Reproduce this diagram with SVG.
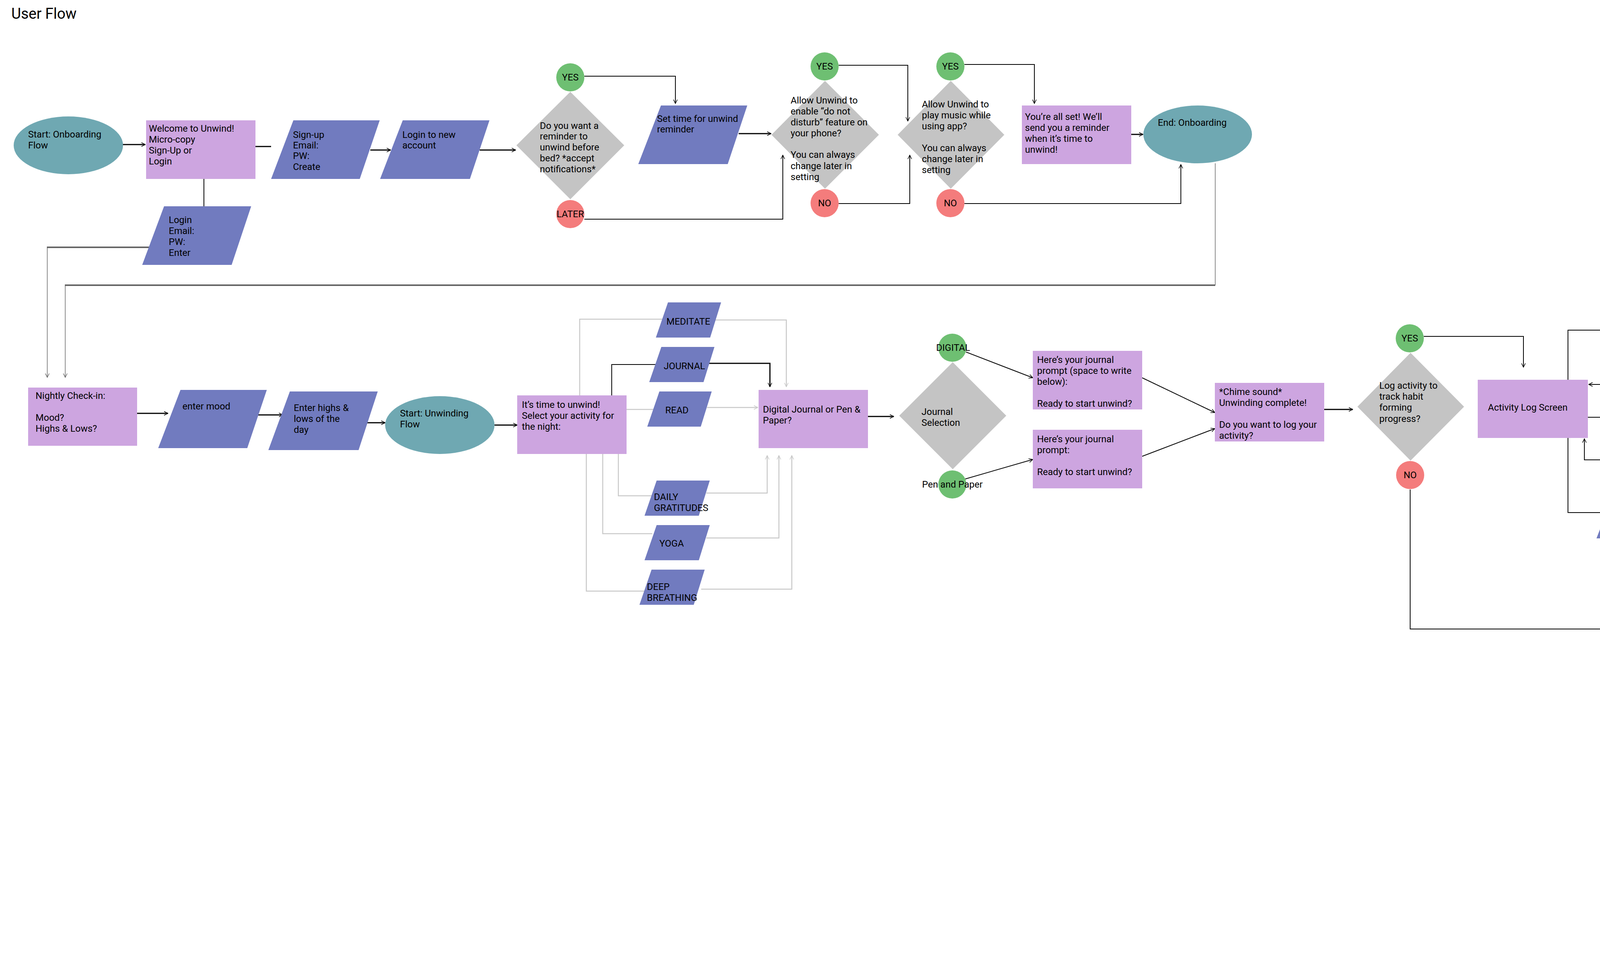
<svg xmlns="http://www.w3.org/2000/svg" width="4858" height="2470" viewBox="0 0 4858 2470">
<style>
text{font-family:Roboto,"Liberation Sans",sans-serif;font-size:24px;fill:#000}
.t{fill:#6FA8B2}.p{fill:#CDA5E0}.b{fill:#717BBF}.d{fill:#C4C4C4}.g{fill:#6EBF72}.r{fill:#F47C7C}
.c{fill:none;stroke:#000;stroke-width:3}.c1{fill:none;stroke:#000;stroke-width:2}
.lg{fill:none;stroke:#C8C8C8;stroke-width:2.5}.dg{fill:none;stroke:#666;stroke-width:1.5}.dg3{fill:none;stroke:#666;stroke-width:4}
.m{text-anchor:middle}
</style>
<defs>
<marker id="a" viewBox="0 0 12 12" refX="11" refY="6" markerWidth="12" markerHeight="12" markerUnits="userSpaceOnUse" orient="auto"><path d="M1,1 L11,6 L1,11" fill="none" stroke="#000" stroke-width="1.5"/></marker>
<marker id="ag" viewBox="0 0 12 12" refX="11" refY="6" markerWidth="12" markerHeight="12" markerUnits="userSpaceOnUse" orient="auto"><path d="M1,1 L11,6 L1,11" fill="none" stroke="#C8C8C8" stroke-width="1.5"/></marker>
<marker id="ad" viewBox="0 0 12 12" refX="11" refY="6" markerWidth="12" markerHeight="12" markerUnits="userSpaceOnUse" orient="auto"><path d="M1,1 L11,6 L1,11" fill="none" stroke="#666" stroke-width="1.5"/></marker>
</defs>
<rect width="4858" height="2470" fill="#fff"/>
<text x="29" y="48" style="font-size:38px">User Flow</text>

<g id="connectors">
<path class="c" d="M314,370 H372" marker-end="url(#a)"/>
<path class="c" d="M654,375 H694"/>
<path class="c1" d="M522,458 V528"/>
<path class="c" d="M948,384 H1000" marker-end="url(#a)"/>
<path class="c" d="M1228,384 H1320" marker-end="url(#a)"/>
<path class="c1" d="M1496,195 H1729 V265" marker-end="url(#a)"/>
<path class="c1" d="M1496,561 H2004 V397" marker-end="url(#a)"/>
<path class="c" d="M1891,342 H1974" marker-end="url(#a)"/>
<path class="c1" d="M2147,167 H2324 V310" marker-end="url(#a)"/>
<path class="c1" d="M2147,521 H2329 V397" marker-end="url(#a)"/>
<path class="c1" d="M2469,165 H2648 V265" marker-end="url(#a)"/>
<path class="c1" d="M2469,521 H3023 V421" marker-end="url(#a)"/>
<path class="c" d="M2896,344 H2926" marker-end="url(#a)"/>
<path class="dg" d="M3111,418 V730"/>
<path class="dg3" d="M3111,730 H166"/>
<path class="dg" d="M167,730 V966" marker-end="url(#ad)"/>
<path class="dg3" d="M385,633 H120"/>
<path class="dg" d="M121,633 V966" marker-end="url(#ad)"/>
<path class="c" d="M351,1058 H430" marker-end="url(#a)"/>
<path class="c" d="M660,1062 H724" marker-end="url(#a)"/>
<path class="c" d="M940,1082 H986" marker-end="url(#a)"/>
<path class="c" d="M1266,1088 H1324" marker-end="url(#a)"/>
<path class="lg" d="M1484,1012 V817 H1700"/>
<path class="lg" d="M1830,819 H2013 V990" marker-end="url(#ag)"/>
<path class="c1" d="M1566,1012 V933 H1680"/>
<path class="c" d="M1812,930 H1971 V990" marker-end="url(#a)"/>
<path class="lg" d="M1604,1048 H1675"/>
<path class="lg" d="M1810,1043 H1940" marker-end="url(#ag)"/>
<path class="lg" d="M1583,1162 V1269 H1670"/>
<path class="lg" d="M1808,1262 H1964 V1166" marker-end="url(#ag)"/>
<path class="lg" d="M1543,1162 V1366 H1670"/>
<path class="lg" d="M1808,1377 H1994 V1166" marker-end="url(#ag)"/>
<path class="lg" d="M1501,1162 V1513 H1660"/>
<path class="lg" d="M1795,1508 H2027 V1166" marker-end="url(#ag)"/>
<path class="c" d="M2222,1066 H2288" marker-end="url(#a)"/>
<path class="c1" d="M2473,901 L2644,967" marker-end="url(#a)"/>
<path class="c1" d="M2471,1226 L2644,1176" marker-end="url(#a)"/>
<path class="c1" d="M2924,967 L3110,1056" marker-end="url(#a)"/>
<path class="c1" d="M2924,1168 L3110,1097" marker-end="url(#a)"/>
<path class="c" d="M3390,1048 H3463" marker-end="url(#a)"/>
<path class="c1" d="M3645,861 H3900 V940" marker-end="url(#a)"/>
<path class="c1" d="M4014,972 V845 H4140"/>
<path class="c1" d="M4198,923 V984 H4067" marker-end="url(#a)"/>
<path class="c1" d="M4065,1068 H4135"/>
<path class="c1" d="M4185,1152 V1177 H4056 V1123" marker-end="url(#a)"/>
<path class="c1" d="M4014,1121 V1312 H4110"/>
<path class="c" d="M4350,1310 H4561 V974" marker-end="url(#a)"/>
<path class="c1" d="M3610,1253 V1610 H4637 V974" marker-end="url(#a)"/>
</g>

<g id="start-onboarding"><ellipse class="t" cx="175" cy="372" rx="140" ry="74"/><text x="72" y="352">Start: Onboarding</text><text x="72" y="380">Flow</text></g>
<g id="welcome"><rect class="p" x="374" y="308" width="280" height="150"/><text x="381" y="337">Welcome to Unwind!</text><text x="381" y="365">Micro-copy</text><text x="381" y="393">Sign-Up or</text><text x="381" y="421">Login</text></g>
<g id="signup"><polygon class="b" points="751,308 972,308 921,458 694,458"/><text x="750" y="353">Sign-up</text><text x="750" y="380">Email:</text><text x="750" y="407">PW:</text><text x="750" y="435">Create</text></g>
<g id="login-new"><polygon class="b" points="1031,308 1253,308 1203,458 973,458"/><text x="1030" y="353">Login to new</text><text x="1030" y="380">account</text></g>
<g id="login"><polygon class="b" points="420,528 643,528 593,678 364,678"/><text x="432" y="571">Login</text><text x="432" y="599">Email:</text><text x="432" y="627">PW:</text><text x="432" y="655">Enter</text></g>
<g id="q-reminder"><polygon class="d" points="1460,235 1598,372 1460,510 1322,372"/><text x="1382" y="330">Do you want a</text><text x="1382" y="357">reminder to</text><text x="1382" y="385">unwind before</text><text x="1382" y="413">bed? *accept</text><text x="1382" y="441">notifications*</text></g>
<g id="yes1"><ellipse class="g" cx="1460" cy="198" rx="36" ry="36"/><text class="m" x="1460" y="206">YES</text></g>
<g id="later"><ellipse class="r" cx="1460" cy="548" rx="36" ry="36"/><text class="m" x="1460" y="556">LATER</text></g>
<g id="set-time"><polygon class="b" points="1692,270 1913,270 1863,420 1634,420"/><text x="1682" y="312">Set time for unwind</text><text x="1682" y="339">reminder</text></g>
<g id="q-dnd"><polygon class="d" points="2112,207 2250,345 2112,483 1975,345"/><text x="2024" y="265">Allow Unwind to</text><text x="2024" y="293">enable “do not</text><text x="2024" y="321">disturb” feature on</text><text x="2024" y="349">your phone?</text><text x="2024" y="404">You can always</text><text x="2024" y="433">change later in</text><text x="2024" y="461">setting</text></g>
<g id="yes2"><ellipse class="g" cx="2111" cy="170" rx="36" ry="36"/><text class="m" x="2111" y="178">YES</text></g>
<g id="no2"><ellipse class="r" cx="2111" cy="520" rx="36" ry="36"/><text class="m" x="2111" y="528">NO</text></g>
<g id="q-music"><polygon class="d" points="2434,207 2571,345 2434,483 2298,345"/><text x="2360" y="275">Allow Unwind to</text><text x="2360" y="303">play music while</text><text x="2360" y="331">using app?</text><text x="2360" y="387">You can always</text><text x="2360" y="415">change later in</text><text x="2360" y="443">setting</text></g>
<g id="yes3"><ellipse class="g" cx="2433" cy="170" rx="36" ry="36"/><text class="m" x="2433" y="178">YES</text></g>
<g id="no3"><ellipse class="r" cx="2433" cy="520" rx="36" ry="36"/><text class="m" x="2433" y="528">NO</text></g>
<g id="all-set"><rect class="p" x="2616" y="270" width="280" height="150"/><text x="2624" y="307">You’re all set! We’ll</text><text x="2624" y="335">send you a reminder</text><text x="2624" y="363">when it’s time to</text><text x="2624" y="391">unwind!</text></g>
<g id="end-onboarding"><ellipse class="t" cx="3066" cy="344" rx="139" ry="74"/><text x="2964" y="322">End: Onboarding</text></g>

<g id="nightly"><rect class="p" x="72" y="992" width="279" height="149"/><text x="91" y="1021">Nightly Check-in:</text><text x="91" y="1077">Mood?</text><text x="91" y="1105">Highs &amp; Lows?</text></g>
<g id="enter-mood"><polygon class="b" points="462,998 683,998 633,1147 405,1147"/><text x="467" y="1048">enter mood</text></g>
<g id="enter-highs"><polygon class="b" points="742,1002 967,1002 918,1152 687,1152"/><text x="752" y="1052">Enter highs &amp;</text><text x="752" y="1080">lows of the</text><text x="752" y="1108">day</text></g>
<g id="start-unwinding"><ellipse class="t" cx="1126" cy="1088" rx="140" ry="74"/><text x="1024" y="1066">Start: Unwinding</text><text x="1024" y="1094">Flow</text></g>
<g id="time-to-unwind"><rect class="p" x="1324" y="1012" width="280" height="150"/><text x="1336" y="1044">It’s time to unwind!</text><text x="1336" y="1072">Select your activity for</text><text x="1336" y="1100">the night:</text></g>
<g id="meditate"><polygon class="b" points="1710,774 1846,774 1818,864 1679,864"/><text x="1706" y="831">MEDITATE</text></g>
<g id="journal"><polygon class="b" points="1693,888 1829,888 1801,978 1662,978"/><text x="1699" y="945">JOURNAL</text></g>
<g id="read"><polygon class="b" points="1688,1002 1822,1002 1794,1092 1657,1092"/><text x="1703" y="1058">READ</text></g>
<g id="gratitudes"><polygon class="b" points="1681,1230 1817,1230 1789,1320 1650,1320"/><text x="1674" y="1280">DAILY</text><text x="1674" y="1308">GRATITUDES</text></g>
<g id="yoga"><polygon class="b" points="1681,1344 1817,1344 1789,1434 1650,1434"/><text x="1688" y="1399">YOGA</text></g>
<g id="breathing"><polygon class="b" points="1668,1458 1804,1458 1776,1548 1637,1548"/><text x="1656" y="1510">DEEP</text><text x="1656" y="1538">BREATHING</text></g>
<g id="digital-or-paper"><rect class="p" x="1942" y="998" width="280" height="149"/><text x="1953" y="1056">Digital Journal or Pen &amp;</text><text x="1953" y="1084">Paper?</text></g>
<g id="journal-selection"><polygon class="d" points="2439,927 2576,1064 2439,1201 2302,1064"/><text x="2359" y="1062">Journal</text><text x="2359" y="1090">Selection</text></g>
<g id="digital"><ellipse class="g" cx="2438" cy="890" rx="36" ry="36"/><text class="m" x="2440" y="898">DIGITAL</text></g>
<g id="pen-paper"><ellipse class="g" cx="2438" cy="1240" rx="36" ry="36"/><text class="m" x="2438" y="1248">Pen and Paper</text></g>
<g id="prompt-digital"><rect class="p" x="2644" y="898" width="280" height="150"/><text x="2655" y="929">Here’s your journal</text><text x="2655" y="957">prompt (space to write</text><text x="2655" y="985">below):</text><text x="2655" y="1041">Ready to start unwind?</text></g>
<g id="prompt-paper"><rect class="p" x="2644" y="1100" width="280" height="150"/><text x="2655" y="1132">Here’s your journal</text><text x="2655" y="1160">prompt:</text><text x="2655" y="1216">Ready to start unwind?</text></g>
<g id="chime"><rect class="p" x="3110" y="980" width="280" height="150"/><text x="3121" y="1011">*Chime sound*</text><text x="3121" y="1039">Unwinding complete!</text><text x="3121" y="1095">Do you want to log your</text><text x="3121" y="1123">activity?</text></g>
<g id="q-log"><polygon class="d" points="3611,903 3748,1041 3611,1179 3475,1041"/><text x="3531" y="995">Log activity to</text><text x="3531" y="1023">track habit</text><text x="3531" y="1051">forming</text><text x="3531" y="1080">progress?</text></g>
<g id="yes4"><ellipse class="g" cx="3609" cy="866" rx="36" ry="36"/><text class="m" x="3609" y="874">YES</text></g>
<g id="no4"><ellipse class="r" cx="3610" cy="1216" rx="36" ry="36"/><text class="m" x="3610" y="1224">NO</text></g>
<g id="activity-log"><rect class="p" x="3783" y="972" width="282" height="149"/><text x="3809" y="1051">Activity Log Screen</text></g>
<g id="log-activity"><polygon class="b" points="4175,774 4393,774 4346,923 4117,923"/><text x="4197" y="848">log activity</text></g>
<g id="view-past"><polygon class="b" points="4156,1002 4378,1002 4330,1152 4100,1152"/><text x="4140" y="1082">View Past Activities</text></g>
<g id="ready-bed"><polygon class="b" points="4145,1228 4365,1228 4317,1378 4087,1378"/><text x="4133" y="1301">Ready for bed</text></g>
<g id="end-sweet"><ellipse class="t" cx="4590" cy="889" rx="139" ry="74"/><text class="m" x="4590" y="878">End: Sweet</text><text class="m" x="4590" y="906">Dreams!</text></g>
</svg>
